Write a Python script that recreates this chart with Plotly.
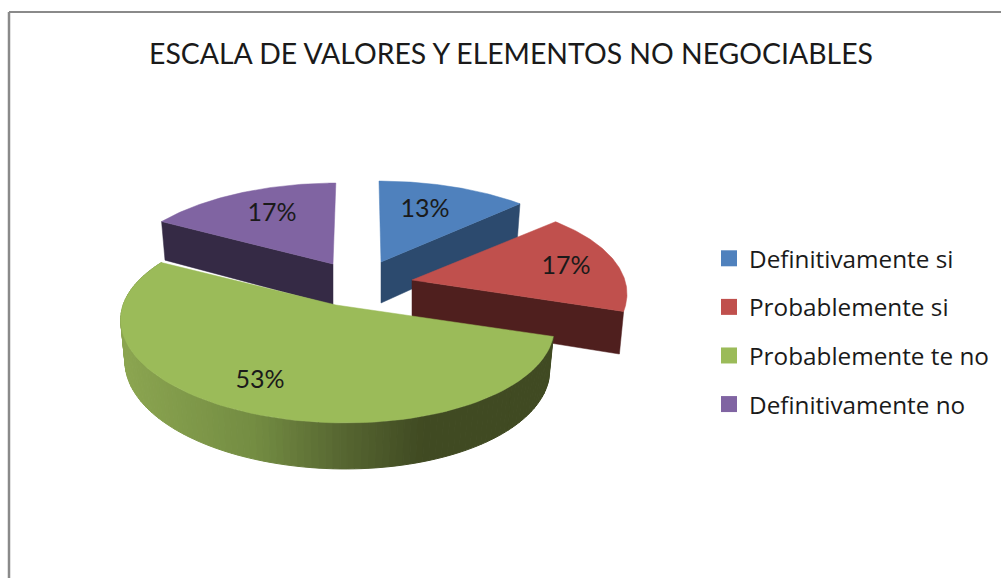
"""Pastel 3D éclaté : ESCALA DE VALORES Y ELEMENTOS NO NEGOCIABLES."""

import math

import plotly.graph_objects as go

# Données
categories = ["Definitivamente si", "Probablemente si", "Probablemente te no", "Definitivamente no"]
percentages = [13, 17, 53, 17]

# Style
top_colors = ["#4f81bd", "#c0504d", "#9bbb59", "#8064a2"]
wall_colors = ["#2c4a6e", "#4f1f1e", None, "#352a45"]
# Dégradé de la paroi verte, selon la position horizontale
green_wall_stops = [
    (0.0, (139, 165, 80)),
    (0.30, (115, 140, 66)),
    (0.49, (88, 104, 50)),
    (0.69, (64, 74, 34)),
    (1.0, (64, 74, 34)),
]

# Géométrie de la perspective (pixels)
apexes = [(381, 262), (412, 280), (336, 305), (333, 264)]
label_offsets = [(44, -51), (154, -12), (-76, 77), (-61, -49)]
slice_scale = [1.01, 0.99, 0.99, 1.0]
slice_shear = [0.025, -0.1, 0.08, -0.035]
RADIUS_X, RADIUS_Y, TILT = 215, 96, 0.186
WALL_H, WALL_TAPER, WALL_SHRINK = 41, 5, 0.98
FONT = "Lato"


def project(i, angle, bottom=False):
    """Point du bord de la part i : angle en degrés depuis midi, sens horaire."""
    apex = apexes[i]
    u, v = math.sin(math.radians(angle)), math.cos(math.radians(angle))
    scale = 1 / (1 + TILT * v)
    dy = -RADIUS_Y * v * scale
    dx = RADIUS_X * u * scale * slice_scale[i] + slice_shear[i] * dy
    if bottom:
        return apex[0] + dx * WALL_SHRINK, apex[1] + dy + WALL_H - WALL_TAPER * v
    return apex[0] + dx, apex[1] + dy


def arc(i, start, end, n=90):
    return [project(i, start + (end - start) * k / n) for k in range(n + 1)]


def polygon(points, color, name=None, width=0.5):
    xs, ys = zip(*points)
    return go.Scatter(
        x=list(xs) + [xs[0]],
        y=list(ys) + [ys[0]],
        mode="lines",
        fill="toself",
        fillcolor=color,
        line=dict(color=color, width=width),
        name=name,
        showlegend=False,
        hoverinfo="text" if name else "skip",
    )


def gradient(t):
    for (t0, c0), (t1, c1) in zip(green_wall_stops, green_wall_stops[1:]):
        if t <= t1:
            f = (t - t0) / (t1 - t0)
            return "rgb({},{},{})".format(*[round(a + (b - a) * f) for a, b in zip(c0, c1)])
    return "rgb({},{},{})".format(*green_wall_stops[-1][1])


# Angles de chaque part à partir des valeurs
bounds = [0]
for p in percentages:
    bounds.append(bounds[-1] + p * 3.6)

fig = go.Figure()


def radial_wall(i, angle):
    apex = apexes[i]
    fig.add_trace(polygon(
        [apex, project(i, angle), project(i, angle, True), (apex[0], apex[1] + WALL_H)],
        wall_colors[i],
    ))


def top_face(i):
    trace = polygon([apexes[i]] + arc(i, bounds[i], bounds[i + 1]), top_colors[i], categories[i])
    trace.text = f"{categories[i]}: {percentages[i]}%"
    fig.add_trace(trace)


# Ordre de dessin : du fond vers l'avant
radial_wall(0, bounds[1])
top_face(0)
radial_wall(3, bounds[3])
top_face(3)
radial_wall(1, bounds[2])
top_face(1)

# Paroi courbe de la part verte, en bandes pour le dégradé
strips = 120
x_left = project(2, 270)[0]
x_right = project(2, bounds[2])[0]
for k in range(strips):
    a0 = bounds[3] - (bounds[3] - bounds[2]) * k / strips
    a1 = bounds[3] - (bounds[3] - bounds[2]) * (k + 1) / strips
    t = min(max((project(2, a0)[0] - x_left) / (x_right - x_left), 0), 1)
    fig.add_trace(polygon(
        [project(2, a0), project(2, a1), project(2, a1, True), project(2, a0, True)],
        gradient(t),
        width=1,
    ))
top_face(2)

# Étiquettes de pourcentage
for i, p in enumerate(percentages):
    fig.add_trace(go.Scatter(
        x=[apexes[i][0] + label_offsets[i][0]],
        y=[apexes[i][1] + label_offsets[i][1]],
        mode="text",
        text=[f"{p}%"],
        textfont=dict(family=FONT, size=25, color="#1a1a1a"),
        showlegend=False,
        hoverinfo="skip",
    ))

# Légende
for name, color in zip(categories, top_colors):
    fig.add_trace(go.Scatter(
        x=[None],
        y=[None],
        mode="markers",
        name=name,
        legendgroup=name,
        marker=dict(symbol="square", size=16, color=color),
    ))

fig.add_shape(type="line", x0=9, x1=1001, y0=12, y1=12, line=dict(color="#8a8a8a", width=2))
fig.add_shape(type="line", x0=9, x1=9, y0=12, y1=578, line=dict(color="#8a8a8a", width=2.5))

fig.update_xaxes(range=[0, 1001], visible=False, fixedrange=True)
fig.update_yaxes(range=[578, 0], visible=False, fixedrange=True)
fig.update_layout(
    width=1001,
    height=578,
    margin=dict(l=0, r=0, t=0, b=0),
    paper_bgcolor="white",
    plot_bgcolor="white",
    font=dict(family=FONT, color="#1a1a1a"),
    title=dict(
        text="ESCALA DE VALORES Y ELEMENTOS NO NEGOCIABLES",
        x=511 / 1001,
        xanchor="center",
        y=1 - 54 / 578,
        yanchor="middle",
        font=dict(family=FONT, size=28.4, color="#1a1a1a"),
    ),
    legend=dict(
        x=709 / 1001,
        y=1 - 236 / 578,
        xanchor="left",
        yanchor="top",
        font=dict(family="Open Sans", size=24.3, color="#1a1a1a"),
        tracegroupgap=14,
        bgcolor="rgba(0,0,0,0)",
    ),
)

fig.write_html(
    "out.html",
    config={"displayModeBar": False},
    post_script="document.body.style.margin = '0';",
)
